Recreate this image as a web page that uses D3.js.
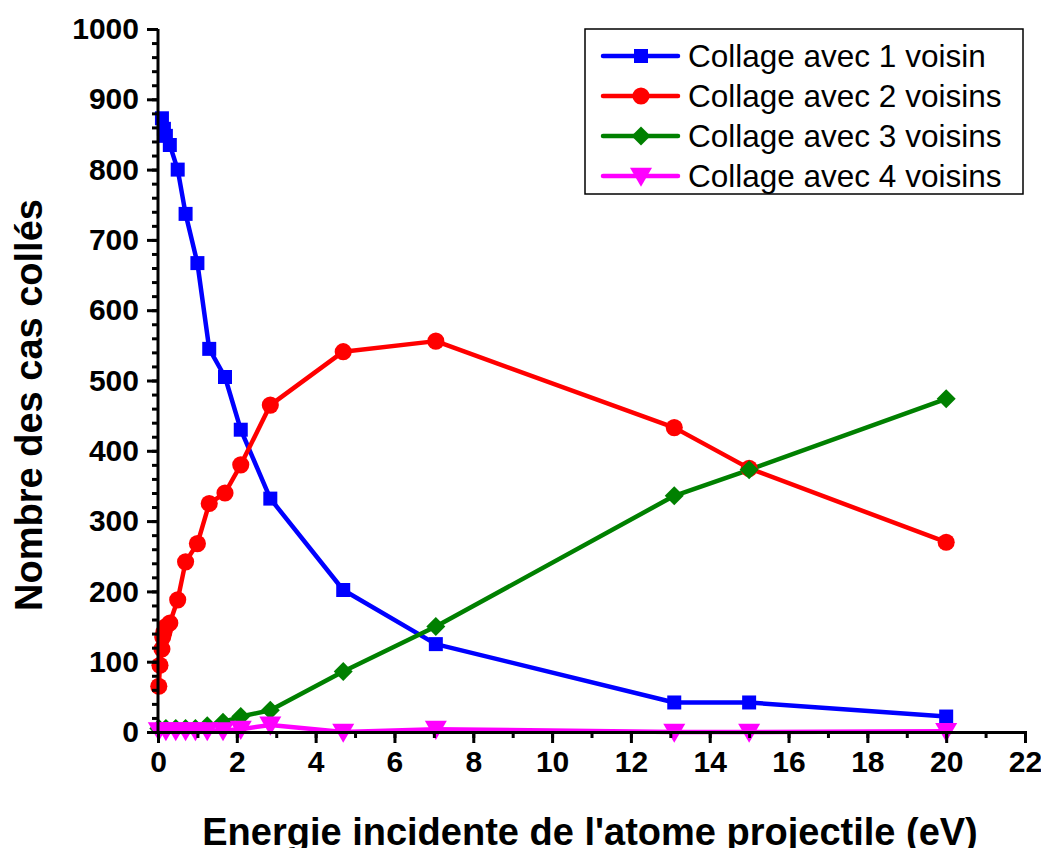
<!DOCTYPE html>
<html><head><meta charset="utf-8">
<script src="https://cdn.jsdelivr.net/npm/d3@7"></script>
<style>body{margin:0;background:#fff}svg{display:block}</style>
</head><body>
<script>
const xTicks = [0,2,4,6,8,10,12,14,16,18,20,22];
const yTicks = [0,100,200,300,400,500,600,700,800,900,1000];

const s1x = [0.1,0.15,0.2,0.3,0.5,0.7,1.0,1.3,1.7,2.1,2.85,4.7,7.05,13.1,15,20];
const s1y = [873,858,848,835,800,737,667,545,505,430,332,202,125,42,42,22];
const s2x = [0.02,0.05,0.1,0.12,0.15,0.2,0.3,0.5,0.7,1.0,1.3,1.7,2.1,2.85,4.7,7.05,13.1,15,20];
const s2y = [65,95,118,135,142,150,155,188,242,268,325,340,380,465,541,556,433,375,270];
const s3x = [0.02,0.2,0.45,0.7,0.95,1.25,1.65,2.1,2.85,4.7,7.05,13.1,15,20];
const s3y = [5,5,5,5,5,9,14,22,31,86,150,336,373,474];
const s4x = [0.02,0.2,0.45,0.7,0.95,1.25,1.65,2.1,2.85,4.7,7.05,13.1,15,20];
const s4y = [2,2,2,2,2,2,2,4,10,0,4,0,0,1];
const names = ["Collage avec 1 voisin","Collage avec 2 voisins","Collage avec 3 voisins","Collage avec 4 voisins"];
const colors = ["#0000ff","#ff0000","#008000","#ff00ff"];

const W=1041,H=848;
const FONT="Liberation Sans, Arial, sans-serif";
const svg=d3.select("body").append("svg").attr("width",W).attr("height",H);
const x=d3.scaleLinear().domain([0,22]).range([158,1025]);
const y=d3.scaleLinear().domain([0,1000]).range([732,29]);

const series=[[s1x,s1y],[s2x,s2y],[s3x,s3y],[s4x,s4y]].map((p,i)=>({
  name:names[i],color:colors[i],pts:p[0].map((v,j)=>[v,p[1][j]])}));

const symbols=[d3.symbolSquare,d3.symbolCircle,d3.symbolSquare,d3.symbolTriangle];
const sizes=[196,230,180,210];
function marker(g,i,color){
  const p=g.append("path").attr("d",d3.symbol(symbols[i],sizes[i])()).attr("fill",color);
  if(i===3) p.attr("transform","translate(0,-2) rotate(180)");
  if(i===2) p.attr("transform","rotate(45)");
  return p;
}

// lines
const line=d3.line().x(d=>x(d[0])).y(d=>y(d[1]));
series.forEach((s,i)=>{
  svg.append("path").datum(s.pts).attr("d",line).attr("fill","none")
    .attr("stroke",s.color).attr("stroke-width",4.5).attr("stroke-linejoin","round");
});
series.forEach((s,i)=>{
  s.pts.forEach(d=>{
    const g=svg.append("g").attr("transform",`translate(${x(d[0])},${y(d[1])})`);
    marker(g,i,s.color);
  });
});

// axes
const xAxis=svg.append("g").attr("transform","translate(0,732)");
xAxis.call(d3.axisBottom(x).tickValues(d3.range(0,23,1)).tickSize(6).tickFormat(""));
xAxis.selectAll(".tick line").attr("stroke-width",3);
xAxis.select(".domain").remove();
const xMaj=svg.append("g").attr("transform","translate(0,732)")
  .call(d3.axisBottom(x).tickValues(xTicks).tickSize(11).tickPadding(8).tickFormat(d3.format("d")));
xMaj.select(".domain").attr("stroke-width",3);
xMaj.selectAll(".tick line").attr("stroke-width",3);
xMaj.selectAll("text").attr("font-family",FONT).attr("font-weight","bold").attr("font-size",30).attr("fill","#000");

const yAxis=svg.append("g").attr("transform","translate(158,0)");
yAxis.call(d3.axisLeft(y).tickValues(d3.range(0,1001,20)).tickSize(6).tickFormat(""));
yAxis.selectAll(".tick line").attr("stroke-width",3);
yAxis.select(".domain").remove();
const yMaj=svg.append("g").attr("transform","translate(158,0)")
  .call(d3.axisLeft(y).tickValues(yTicks).tickSize(11).tickPadding(8).tickFormat(d3.format("d")));
yMaj.select(".domain").attr("stroke-width",3).attr("d","M0,29V733.5");
yMaj.selectAll(".tick line").attr("stroke-width",3);
yMaj.selectAll("text").attr("font-family",FONT).attr("font-weight","bold").attr("font-size",30).attr("fill","#000");
svg.selectAll(".domain").attr("stroke","#000");
svg.selectAll(".tick line").attr("stroke","#000");

// axis titles
svg.append("text").attr("x",590).attr("y",845).attr("text-anchor","middle")
  .attr("font-family",FONT).attr("font-weight","bold").attr("font-size",38)
  .text("Energie incidente de l'atome projectile (eV)");
svg.append("text").attr("transform","translate(42,405) rotate(-90)").attr("text-anchor","middle")
  .attr("font-family",FONT).attr("font-weight","bold").attr("font-size",38)
  .text("Nombre des cas collés");

// legend
const lg=svg.append("g");
lg.append("rect").attr("x",585).attr("y",29).attr("width",438).attr("height",165)
  .attr("fill","#fff").attr("stroke","#000").attr("stroke-width",1.5);
series.forEach((s,i)=>{
  const yy=56+i*40;
  lg.append("line").attr("x1",603).attr("x2",678).attr("y1",yy).attr("y2",yy)
    .attr("stroke",s.color).attr("stroke-width",4.5).attr("stroke-linecap","round");
  const g=lg.append("g").attr("transform",`translate(641,${yy})`);
  marker(g,i,s.color);
  lg.append("text").attr("x",688).attr("y",yy+11).attr("font-family",FONT)
    .attr("font-size",31.5).attr("fill","#000").text(s.name);
});
</script>
</body></html>
